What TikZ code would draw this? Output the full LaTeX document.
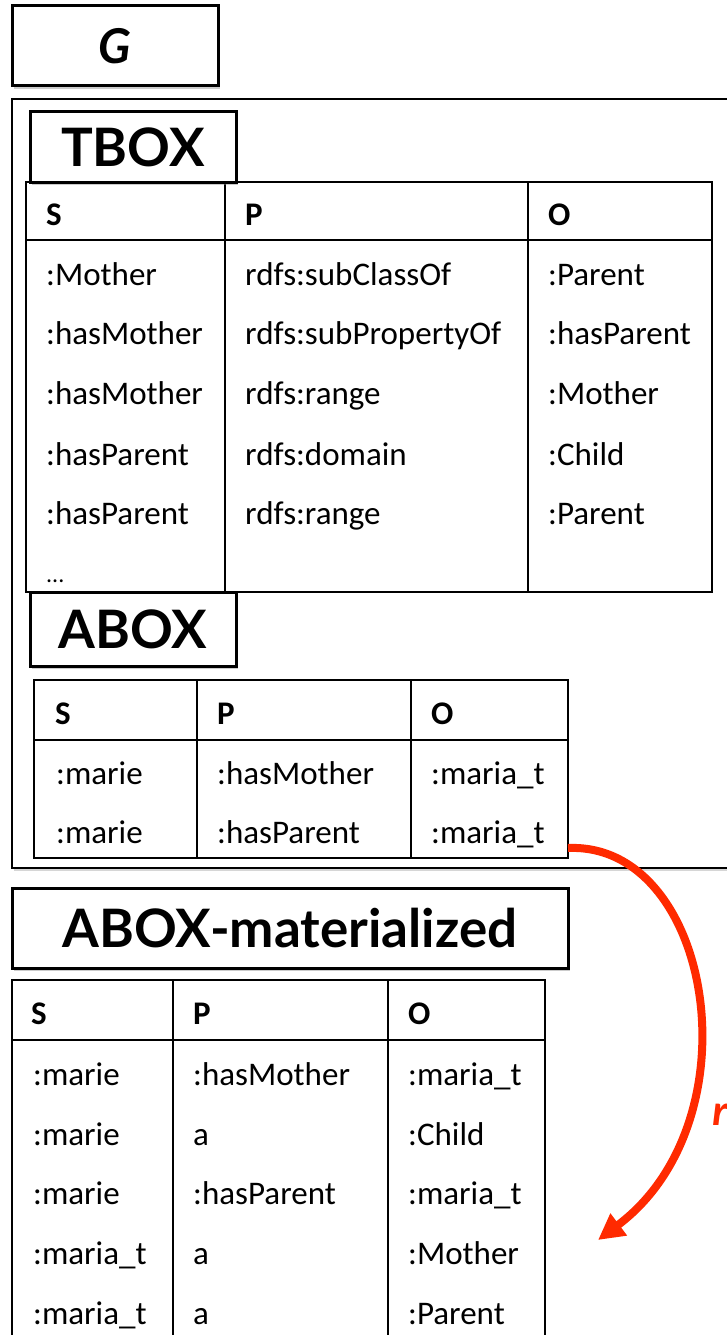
\documentclass[tikz,border=0pt]{standalone}
\usepackage{fontspec}
\setmainfont{Carlito}
\newfontfamily\hdfont{Lato}
\usepackage{tikz}
\usetikzlibrary{arrows.meta,positioning,calc,shadows}

\definecolor{infred}{RGB}{255,42,0}

\tikzset{
  lblbox/.style={draw,line width=3pt,fill=white,inner sep=0pt,
    drop shadow={shadow xshift=2pt,shadow yshift=-3pt,fill=black!45,opacity=.45},
    font=\hdfont\bfseries\fontsize{53}{58}\selectfont},
  tbl/.style={line width=2.6pt},
  cell/.style={anchor=west,inner sep=0pt,text height=23pt,text depth=0pt,
    font=\fontsize{33}{38}\selectfont},
  hcell/.style={cell,font=\fontsize{33}{38}\selectfont\bfseries},
}

\begin{document}
\begin{tikzpicture}[x=1pt,y=-1pt]
\useasboundingbox (0,0) rectangle (727,1335);
\clip (0,0) rectangle (727,1335);
\fill[white] (0,0) rectangle (727,1335);

% graph G
\node[lblbox,minimum width=206pt,minimum height=80pt,font=\hdfont\bfseries\itshape\fontsize{48}{52}\selectfont] (gbox) at (115,46) {G};
\draw[line width=2.2pt,fill=white,drop shadow={shadow xshift=2pt,shadow yshift=-3pt,fill=black!45,opacity=.35}] (12,99) rectangle (760,868);

% TBOX table
\draw[tbl] (26,182) rectangle (712,592);
\draw[tbl] (26,240) -- (712,240) (225,182) -- (225,592) (528,182) -- (528,592);
\foreach \name/\x/\txt in {ts/46/S,tp/245/P,to/548/O} {
  \node[hcell] (\name) at (\x,214) {\txt};
}
\foreach \name/\x/\y/\txt in {
  t11/46/274/:Mother, t12/245/274/rdfs:subClassOf, t13/548/274/:Parent,
  t21/46/333/:hasMother, t22/245/333/rdfs:subPropertyOf, t23/548/333/:hasParent,
  t31/46/393/:hasMother, t32/245/393/rdfs:range, t33/548/393/:Mother,
  t41/46/454/:hasParent, t42/245/454/rdfs:domain, t43/548/454/:Child,
  t51/46/513/:hasParent, t52/245/513/rdfs:range, t53/548/513/:Parent} {
  \node[cell] (\name) at (\x,\y) {\txt};
}
\node[cell,font=\fontsize{24}{28}\selectfont] (t61) at (46,571) {...};
\node[lblbox,minimum width=206pt,minimum height=70pt] (tbox) at (133,147) {TBOX};

% ABOX table
\draw[tbl] (34,680) rectangle (568,858);
\draw[tbl] (34,740) -- (568,740) (197,680) -- (197,858) (411,680) -- (411,858);
\foreach \name/\x/\txt in {as/55/S,ap/217/P,ao/431/O} {
  \node[hcell] (\name) at (\x,713) {\txt};
}
\foreach \name/\x/\y/\txt in {
  a11/56/773/:marie, a12/217/773/:hasMother, a13/431/773/:maria\_t,
  a21/56/832/:marie, a22/217/832/:hasParent, a23/431/832/:maria\_t} {
  \node[cell] (\name) at (\x,\y) {\txt};
}
\node[lblbox,minimum width=206pt,minimum height=74pt] (abox) at (133,629) {ABOX};
\coordinate (aboxend) at (568,848);

% materialized ABOX
\node[lblbox,minimum width=556pt,minimum height=80pt] (matbox) at (290,928) {ABOX-materialized};
\draw[tbl] (12,980) rectangle (545,1360);
\draw[tbl] (12,1040) -- (545,1040) (173,980) -- (173,1360) (388,980) -- (388,1360);
\foreach \name/\x/\txt in {ms/31/S,mp/193/P,mo/408/O} {
  \node[hcell] (\name) at (\x,1013) {\txt};
}
\foreach \name/\x/\y/\txt in {
  m11/33/1074/:marie, m12/193/1074/:hasMother, m13/408/1074/:maria\_t,
  m21/33/1134/:marie, m22/193/1134/a, m23/408/1134/:Child,
  m31/33/1193/:marie, m32/193/1193/:hasParent, m33/408/1193/:maria\_t,
  m41/33/1253/:maria\_t, m42/193/1253/a, m43/408/1253/:Mother,
  m51/33/1313/:maria\_t, m52/193/1313/a, m53/408/1313/:Parent} {
  \node[cell] (\name) at (\x,\y) {\txt};
}

% inference arrow
\coordinate (mattip) at (598,1240);
\draw[infred,line width=8pt,-{Triangle[length=26pt,width=26pt]}] (aboxend) .. controls (712,842) and (758,1120) .. (mattip);
\node[anchor=west,inner sep=0pt,text=infred,font=\bfseries\itshape\fontsize{44}{50}\selectfont] (rlbl) at (712,1115) {r};
\end{tikzpicture}
\end{document}
